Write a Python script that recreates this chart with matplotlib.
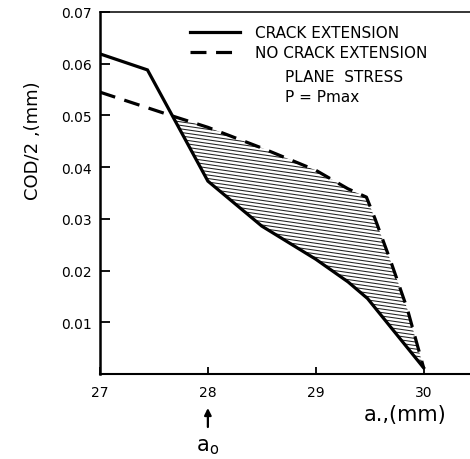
import numpy as np
import matplotlib
matplotlib.use("Agg")
import matplotlib.pyplot as plt
from matplotlib.collections import LineCollection
from matplotlib.lines import Line2D

# Crack length a (mm) and half crack-opening displacement COD/2 (mm)
crack_ext_a = [27.0, 27.44, 28.0, 28.5, 29.0, 29.3, 29.48, 30.0]
crack_ext_cod = [0.0619, 0.0588, 0.0373, 0.0286, 0.0222, 0.0178, 0.0146, 0.0012]

no_ext_a = [27.0, 27.7, 28.0, 28.5, 29.0, 29.3, 29.47, 29.55, 29.7, 29.85, 30.0]
no_ext_cod = [0.0545, 0.0497, 0.0477, 0.0437, 0.0394, 0.0358, 0.0342, 0.0300, 0.0215, 0.0125, 0.0012]

x_ticks = [27, 28, 29, 30]
x_tick_labels = ["27", "28", "29", "30"]
y_ticks = [0.01, 0.02, 0.03, 0.04, 0.05, 0.06, 0.07]
y_tick_labels = ["0.01", "0.02", "0.03", "0.04", "0.05", "0.06", "0.07"]
a0 = 28.0

legend_labels = ["CRACK EXTENSION", "NO CRACK EXTENSION"]

plt.rcParams["font.family"] = ["DejaVu Sans"]
W, H = 470, 460
fig = plt.figure(figsize=(W / 100, H / 100), dpi=100)
ax = fig.add_axes([100 / W, 1 - 375 / H, 1 - 100 / W, (375 - 13) / H])

ax.set_xlim(27.0, 30.43)
ax.set_ylim(0.0, 0.07)

solid, = ax.plot(crack_ext_a, crack_ext_cod, color="black", lw=2.3,
                 solid_joinstyle="miter", zorder=4)
dashed, = ax.plot(no_ext_a, no_ext_cod, color="black", lw=2.3,
                  dashes=(5, 3), zorder=4)

# Region where the no-extension curve lies above the crack-extension curve
grid = np.linspace(27.0, 30.0, 1201)
upper = np.interp(grid, no_ext_a, no_ext_cod)
lower = np.interp(grid, crack_ext_a, crack_ext_cod)
region = ax.fill_between(grid, lower, upper, where=upper >= lower,
                         interpolate=True, facecolor="none", edgecolor="none")
clip_path = region.get_paths()[0]

# Fine, slightly inclined hatch lines clipped to that region
tilt = 0.0030
offsets = np.arange(0.0, 0.06, 0.00068)
segs = [[(27.5, c - tilt * 0.5), (30.1, c - tilt * 3.1)] for c in offsets]
hatch = LineCollection(segs, colors="#222222", linewidths=0.75, zorder=3)
ax.add_collection(hatch)
hatch.set_clip_path(clip_path, ax.transData)

# Axes frame
ax.spines["right"].set_visible(False)
ax.spines["left"].set_linewidth(1.8)
ax.spines["bottom"].set_linewidth(1.5)
ax.spines["top"].set_linewidth(1.1)

ax.set_xticks(x_ticks)
ax.set_xticklabels(x_tick_labels, fontsize=10)
ax.set_yticks(y_ticks)
ax.set_yticklabels(y_tick_labels, fontsize=10)
ax.tick_params(axis="y", direction="in", length=7, width=1.3, pad=6)
ax.tick_params(axis="x", direction="in", length=5, width=1.3, pad=8)

# Legend
ax.legend([Line2D([], [], color="black", lw=2.3),
           Line2D([], [], color="black", lw=2.3, dashes=(5, 3))],
          legend_labels, loc="upper left", frameon=False, fontsize=11,
          handlelength=3.3, handletextpad=0.95, labelspacing=0.32,
          borderpad=0, borderaxespad=0,
          bbox_to_anchor=(190 / W, 1 - 26 / H), bbox_transform=fig.transFigure)

fig.text(285 / W, 1 - 77 / H, "PLANE  STRESS", fontsize=11, va="center", ha="left")
fig.text(285 / W, 1 - 98 / H, "P = Pmax", fontsize=11, va="center", ha="left")

# Axis titles
fig.text(33 / W, 1 - 141 / H, "COD/2 ,(mm)", rotation=90, fontsize=13,
         va="center", ha="center")
fig.text(405 / W, 1 - 415 / H, "a.,(mm)", fontsize=15, va="center", ha="center")

# Initial crack length marker
ax.annotate("", xy=(a0, H - 409), xytext=(a0, H - 428),
            xycoords=("data", "figure pixels"), textcoords=("data", "figure pixels"),
            arrowprops=dict(arrowstyle="-|>", color="black", lw=1.6,
                            mutation_scale=10, shrinkA=0, shrinkB=0),
            annotation_clip=False)
ax.annotate(r"$\mathregular{a_o}$", xy=(a0, H - 447),
            xycoords=("data", "figure pixels"), fontsize=15,
            ha="center", va="center", annotation_clip=False)

fig.savefig("out.png", dpi=100)
